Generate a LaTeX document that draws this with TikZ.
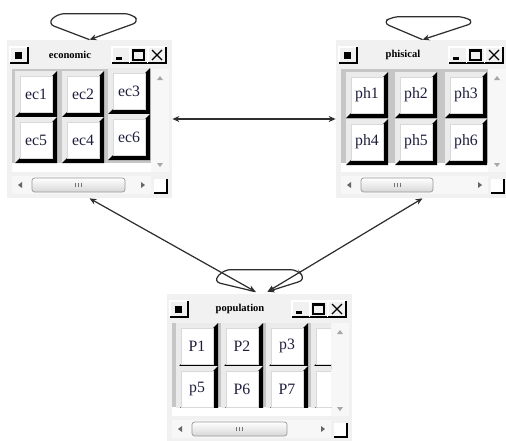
\documentclass[tikz,border=0pt]{standalone}
\usepackage{fontspec}
\setmainfont{Liberation Serif}
\usetikzlibrary{arrows.meta,calc,fit}

\definecolor{panelgray}{HTML}{F1F1F1}
\definecolor{wellgray}{HTML}{C6C6C6}
\definecolor{linkgray}{HTML}{2E2E2E}
\definecolor{thumbgray}{HTML}{D6D6D6}
\definecolor{keytext}{HTML}{1E1E3C}

\tikzset{
  panel/.style={fill=panelgray, inner sep=0pt},
  keyface/.style={fill=white, draw=black!15, inner sep=0pt,
    minimum width=0.64cm, minimum height=0.72cm, text=keytext,
    font=\fontsize{9}{9}\selectfont},
  wintitle/.style={font=\fontsize{6}{6}\selectfont\bfseries, inner sep=0pt},
  link/.style={draw=linkgray, line width=0.7pt,
    {Stealth[length=4pt,width=3.4pt]}-{Stealth[length=4pt,width=3.4pt]}},
  selfloop/.style={draw=linkgray, line width=0.7pt, rounded corners=4pt,
    -{Stealth[length=4pt,width=3.4pt]}}
}

% small raised box of a title bar, top left corner at #1,#2
\newcommand{\ctrlbox}[2]{%
  \fill[panelgray] (#1,#2) rectangle (#1+18,#2+16);
  \draw[white, line width=0.6pt] (#1,#2+16) -- (#1,#2) -- (#1+18,#2);
  \draw[black, line width=0.9pt] (#1,#2+16) -- (#1+18,#2+16) -- (#1+18,#2);
}

% window: name, x0, y0, x1, y1, title, thumb width
\newcommand{\appwin}[7]{%
  \node[panel, fit={(#2,#3) (#4,#5)}] (#1) {};
  % title bar
  \ctrlbox{#2+3}{#3+7}
  \fill[black] (#2+8,#3+12) rectangle (#2+15,#3+19);
  \node[wintitle] at ({(#2+#4-39)/2},#3+15) {#6};
  \ctrlbox{#4-60}{#3+7}
  \ctrlbox{#4-42}{#3+7}
  \ctrlbox{#4-24}{#3+7}
  \draw[line width=1.3pt] (#4-56,#3+18.5) -- (#4-50,#3+18.5);
  \draw[line width=0.6pt] (#4-39,#3+10) rectangle (#4-28,#3+20);
  \draw[line width=1.2pt] (#4-39,#3+10.5) -- (#4-28,#3+10.5);
  \draw[line width=0.7pt] (#4-20,#3+10) -- (#4-10,#3+20) (#4-20,#3+20) -- (#4-10,#3+10);
  % client area
  \fill[wellgray] (#2+5,#3+29) rectangle (#4-21,#5-35);
  \fill[white] (#2+5,#5-35) rectangle (#4-21,#5-26);
  % scroll bars
  \fill[black!3] (#4-21,#3+29) rectangle (#4-3,#5-26);
  \fill[black!35] (#4-12,#3+36) -- (#4-15,#3+40) -- (#4-9,#3+40) -- cycle;
  \fill[black!35] (#4-12,#5-31) -- (#4-15,#5-35) -- (#4-9,#5-35) -- cycle;
  \fill[black!3] (#2+5,#5-22) rectangle (#4-21,#5-4);
  \fill[black!60] (#2+11,#5-13) -- (#2+15,#5-16) -- (#2+15,#5-10) -- cycle;
  \fill[black!60] (#4-27,#5-13) -- (#4-31,#5-16) -- (#4-31,#5-10) -- cycle;
  \draw[draw=black!40, top color=white, bottom color=thumbgray, rounded corners=1.5pt]
    (#2+25,#5-20) rectangle (#2+25+#7,#5-6);
  \foreach \g in {-3,0,3}
    \draw[black!55, line width=0.4pt] ({#2+25+#7/2+\g},#5-15) -- ++(0,4);
  \fill[white] (#4-18,#5-19) rectangle (#4-5,#5-5);
  \draw[line width=1.2pt] (#4-18,#5-5) -- (#4-5,#5-5) -- (#4-5,#5-19);
}

% raised push button: name, centre x, centre y, label
\newcommand{\keybtn}[4]{%
  \fill[black!8] (#2-21,#3-23) rectangle (#2+21,#3+23);
  \fill[black] (#2-21,#3+23) -- (#2-16,#3+18) -- (#2+16,#3+18) -- (#2+16,#3-18)
    -- (#2+21,#3-23) -- (#2+21,#3+23) -- cycle;
  \node[keyface] (#1) at (#2,#3) {#4};
}

\begin{document}
\begin{tikzpicture}[x=0.02cm, y=-0.02cm]
  \useasboundingbox (0,0) rectangle (506,440);
  \clip (0,0) rectangle (506,440);

  \appwin{econ}{7}{40}{172}{198}{economic}{93}
  \appwin{phys}{336}{40}{509}{198}{phisical}{72}
  \appwin{pop}{167}{294}{352}{442}{population}{95}

  \foreach \nm/\cx/\cy in {ec1/36/94, ec2/83/94, ec3/129/91,
                           ec5/36/140, ec4/83/140, ec6/129/137}
    {\keybtn{\nm}{\cx}{\cy}{\nm}}
  \foreach \nm/\cx/\cy in {ph1/367/95, ph2/416/95, ph3/466/95,
                           ph4/367/142, ph5/416/142, ph6/466/142}
    {\keybtn{\nm}{\cx}{\cy}{\nm}}
  \begin{scope}
    \clip (172,323) rectangle (331,407);
    \foreach \nm/\cx/\cy/\txt in {p1/197/346/P1, p2/242/346/P2, p3/287/346/p3, p4/332/346/,
                                  p5/197/389/p5, p6/242/389/P6, p7/287/389/P7, p8/332/389/}
      {\keybtn{\nm}{\cx}{\cy}{\txt}}
  \end{scope}

  \draw[link] (econ.east) -- (phys.west);
  \draw[link] (econ.south) -- ($(pop.north)+(-4,-2)$);
  \draw[link] (phys.south) -- ($(pop.north)+(8,-2)$);

  \draw[selfloop] (econ.north) -- ++(-42,-16) -- ++(10,-10) -- ++(74,0) -- ++(8,8) -- (econ.north);
  \draw[selfloop] (phys.north) -- ++(-40,-17) -- ++(10,-6) -- ++(72,0) -- ++(10,6) -- (phys.north);
  \draw[selfloop] ($(pop.north)+(-4,-2)$) -- ++(-42,-10) -- ++(10,-12) -- ++(74,0) -- ++(8,10)
    -- ($(pop.north)+(8,-2)$);
\end{tikzpicture}
\end{document}
